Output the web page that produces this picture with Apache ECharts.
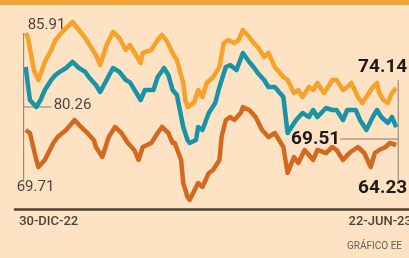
<!DOCTYPE html>
<html>
<head>
<meta charset="utf-8">
<script src="https://cdn.jsdelivr.net/npm/echarts@6/dist/echarts.min.js"></script>
<style>
  html, body { margin: 0; padding: 0; background: #fde2c3; }
  #main { width: 409px; height: 258px; }
</style>
</head>
<body>
<div id="main"></div>
<script>
// días desde el 30-DIC-22, valor
var dateLabels = ["30-DIC-22", "22-JUN-23"];
var orange = [[0,85.91],[1,85.05],[4,77.78],[6,75.85],[9,79.70],[12,82.27],[14,84.41],[16,85.48],[19,86.98],[22,88.26],[25,86.55],[28,84.84],[30,83.34],[33,81.20],[35,79.06],[38,83.34],[41,86.12],[44,84.84],[47,82.27],[49,83.34],[54,79.49],[55,81.63],[59,82.27],[62,84.41],[64,85.48],[66,84.41],[69,81.63],[71,80.13],[74,75.21],[75,71.57],[76,70.07],[79,70.93],[81,73.71],[83,72.21],[85,75.21],[88,76.49],[91,78.63],[93,83.77],[95,84.41],[98,83.77],[100,84.41],[102,86.55],[105,85.05],[107,83.77],[109,82.91],[112,80.77],[114,81.63],[117,78.63],[121,76.49],[123,75.85],[126,73.07],[128,73.71],[130,72.21],[133,74.35],[135,73.71],[137,75.21],[140,73.07],[142,74.35],[144,75.85],[146,75.85],[149,73.71],[151,74.35],[153,75.21],[156,72.21],[158,70.93],[160,72.21],[163,74.35],[165,75.21],[166,73.07],[168,71.57],[170,70.93],[172,73.07],[174,74.14]];
var teal = [[0,80.26],[2,74.35],[5,73.10],[7,74.35],[9,76.14],[12,77.93],[14,78.83],[16,79.37],[19,80.08],[22,81.16],[25,80.08],[28,79.37],[30,78.29],[33,77.04],[35,75.79],[38,77.93],[41,80.08],[44,79.37],[47,77.93],[49,77.50],[54,74.35],[56,76.14],[60,76.14],[62,78.47],[65,80.08],[67,78.83],[69,76.14],[71,75.25],[74,69.52],[76,67.19],[77,66.66],[80,67.19],[81,69.52],[83,68.98],[86,72.03],[89,73.82],[91,76.68],[94,80.26],[96,80.62],[99,79.72],[102,82.77],[105,81.16],[107,80.26],[109,79.19],[112,77.93],[114,76.68],[117,76.68],[121,74.89],[123,68.45],[127,70.77],[130,72.03],[133,71.31],[135,72.56],[137,71.31],[141,72.92],[144,72.56],[146,72.56],[149,70.77],[151,72.56],[155,72.56],[157,70.77],[160,68.98],[163,71.31],[165,72.56],[167,71.31],[170,70.24],[172,71.31],[174,69.51]];
var brown = [[0,69.71],[2,68.61],[5,58.76],[6,56.21],[9,58.76],[13,64.96],[15,67.15],[19,69.71],[23,73.36],[26,70.81],[29,68.61],[32,66.06],[33,63.50],[36,59.86],[39,67.15],[42,70.81],[45,68.61],[48,64.96],[51,62.41],[53,58.76],[55,63.50],[59,64.96],[62,68.61],[64,70.81],[67,68.61],[69,64.96],[70,64.96],[73,58.76],[74,50.36],[76,45.25],[77,44.16],[81,50.36],[83,48.91],[86,54.02],[88,55.11],[91,58.76],[92,67.15],[94,73.36],[96,74.46],[98,73.36],[101,75.92],[102,78.11],[105,77.01],[108,74.46],[111,69.71],[114,67.15],[117,68.61],[121,63.50],[123,54.01],[126,59.86],[128,57.67],[131,62.41],[135,58.76],[137,62.41],[141,61.31],[144,63.50],[146,62.41],[149,58.76],[152,61.31],[156,63.50],[159,61.31],[162,56.21],[164,61.31],[166,62.41],[169,63.50],[171,64.96],[174,64.23]];

var FONT = 'Roboto, sans-serif';
var myChart = echarts.init(document.getElementById("main"));

// etiqueta de valor sobre un punto (inicio o fin de la serie)
function tag(pt, dx, dy, align, bold) {
  return {
    coord: pt,
    value: pt[1],
    label: {
      show: true,
      position: [dx, dy],
      align: align,
      verticalAlign: "middle",
      fontFamily: FONT,
      fontSize: bold ? 19 : 15,
      fontWeight: bold ? "bold" : "normal",
      color: bold ? "#1e1a17" : "#4f4640",
      formatter: function(p) { return p.value.toFixed(2); }
    }
  };
}

function line(data, color, yIdx, tags) {
  return {
    type: "line",
    data: data,
    yAxisIndex: yIdx,
    showSymbol: false,
    lineStyle: { color: color, width: 4.5, join: "round" },
    z: 3,
    markPoint: { symbol: "circle", symbolSize: 0, silent: true, data: tags }
  };
}

var last = function(a) { return a[a.length - 1]; };

var option = {
  backgroundColor: "#fde2c3",
  animation: false,
  grid: { left: 15, right: 0, top: 10, bottom: 49, outerBoundsMode: "none" },
  title: {
    text: "GRÁFICO EE", right: 2, top: 236,
    textStyle: { fontFamily: FONT, fontSize: 10, fontWeight: "normal", color: "#6a605a" }
  },
  xAxis: {
    type: "value",
    min: -5,
    max: 180,
    splitLine: { show: false },
    axisTick: { show: false },
    axisLine: { show: true, onZero: false, lineStyle: { color: "#4d3f33", width: 2.5 } },
    axisLabel: {
      customValues: [0, 174],
      margin: 6,
      formatter: function(v) { return v === 0 ? "{a|" + dateLabels[0] + "}" : "{b|" + dateLabels[1] + "}"; },
      rich: {
        a: { fontFamily: FONT, fontSize: 13, fontWeight: 500, color: "#4a423c", padding: [0, 0, 0, 46] },
        b: { fontFamily: FONT, fontSize: 13, fontWeight: 500, color: "#4a423c", padding: [0, 32, 0, 0] }
      }
    }
  },
  yAxis: [
    { type: "value", show: false, min: 48.25, max: 90.83, splitLine: { show: false } },
    { type: "value", show: false, min: 54.84, max: 90.46, splitLine: { show: false } },
    { type: "value", show: false, min: 40.87, max: 113.51, splitLine: { show: false } }
  ],
  series: [
    line(orange, "#f7a12b", 0, [tag(orange[0], 2, -8, "left", false), tag(last(orange), 11, -21, "right", true)]),
    line(teal, "#1a93a6", 1, [tag(teal[0], 28, 38, "left", false), tag(last(teal), -56, 12, "right", true)]),
    line(brown, "#d2691f", 2, [tag(brown[0], -9, 57, "left", false), tag(last(brown), 11, 43, "right", true)])
  ]
};
myChart.setOption(option);

// líneas guía finas de las etiquetas
var o0 = myChart.convertToPixel({ seriesIndex: 0 }, orange[0]);
var t0 = myChart.convertToPixel({ seriesIndex: 1 }, teal[0]);
var b0 = myChart.convertToPixel({ seriesIndex: 2 }, brown[0]);
var o1 = myChart.convertToPixel({ seriesIndex: 0 }, last(orange));
var t1 = myChart.convertToPixel({ seriesIndex: 1 }, last(teal));
var b1 = myChart.convertToPixel({ seriesIndex: 2 }, last(brown));
var guide = { stroke: "#8c7b6b", lineWidth: 1 };
myChart.setOption({
  graphic: [
    { type: "rect", left: 0, top: 0, shape: { width: 409, height: 5 }, style: { fill: "#f2a23c" } },
    { type: "line", z: 1, shape: { x1: o0[0] - 2, y1: o0[1], x2: o0[0] - 2, y2: b0[1] + 52 }, style: guide },
    { type: "line", z: 1, shape: { x1: t0[0] - 2, y1: t0[1] + 40, x2: t0[0] + 26, y2: t0[1] + 40 }, style: guide },
    { type: "line", z: 1, shape: { x1: o1[0] + 2, y1: o1[1] - 8, x2: o1[0] + 2, y2: b1[1] + 36 }, style: guide },
    { type: "line", z: 1, shape: { x1: t1[0] - 56, y1: t1[1] + 12, x2: t1[0] + 2, y2: t1[1] + 12 }, style: guide }
  ]
});
</script>
</body>
</html>
